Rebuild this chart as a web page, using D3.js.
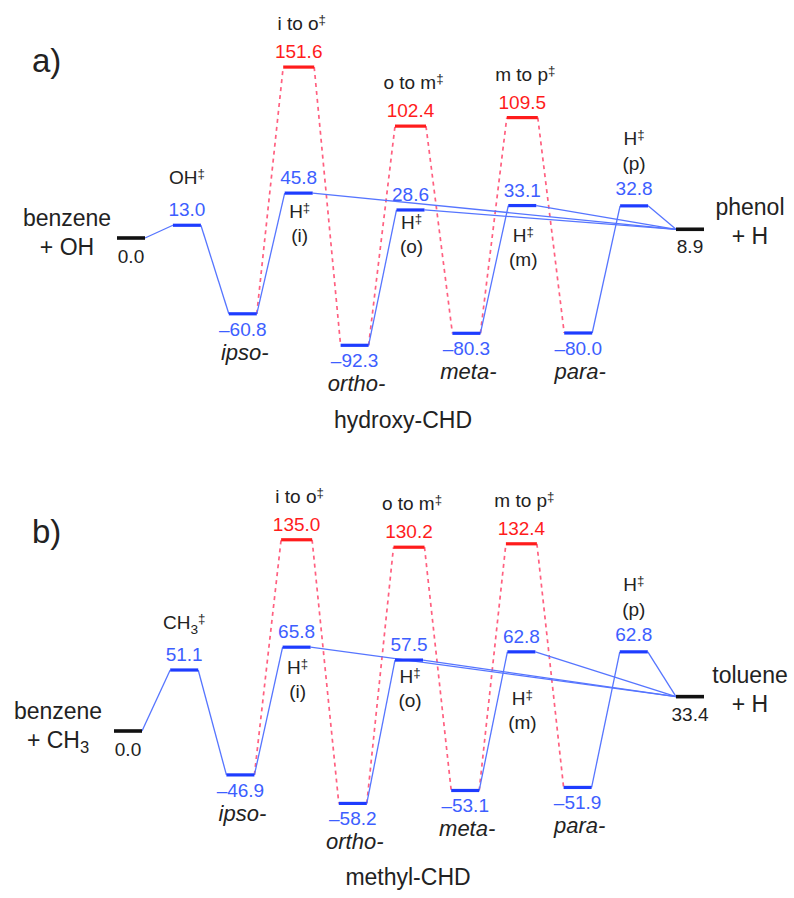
<!DOCTYPE html>
<html>
<head>
<script src="https://d3js.org/d3.v7.min.js"></script>
<style>
  body { margin: 0; background: #fff; }
  svg { display: block; font-family: "Liberation Sans", Arial, Helvetica, sans-serif; }
</style>
</head>
<body>
<svg width="794" height="898"></svg>
<script>
// stationary points, left to right (same column order in both panels)
const columns = ["R", "addTS", "ipso", "Hi", "ortho", "Ho", "meta", "Hm", "para", "Hp", "P"];

// relative energies (kJ/mol) for each column
const energiesA = [0.0, 13.0, -60.8, 45.8, -92.3, 28.6, -80.3, 33.1, -80.0, 32.8, 8.9];
const energiesB = [0.0, 51.1, -46.9, 65.8, -58.2, 57.5, -53.1, 62.8, -51.9, 62.8, 33.4];

// isomerisation transition states (red), drawn over the H-loss columns
const isoTS_A = [151.6, 102.4, 109.5];
const isoTS_B = [135.0, 130.2, 132.4];
const isoNames = ["i to o", "o to m", "m to p"];
const isoCols = ["Hi", "Ho", "Hm"];

const adductCols = ["ipso", "ortho", "meta", "para"];
const adductNames = ["ipso-", "ortho-", "meta-", "para-"];
const hLossCols = ["Hi", "Ho", "Hm", "Hp"];
const hLossTags = ["(i)", "(o)", "(m)", "(p)"];

const INK = "#222", BLUE_TXT = "#3d5eff", BAR_BLUE = "#1e3cff", LINE_BLUE = "#5675ff",
      RED = "#ff1c1c", DASH_RED = "#ff6080";

const panels = [
  {
    tag: "a)", tagY: 72, energies: energiesA, iso: isoTS_A,
    reactant: ["benzene", "+ OH"], reactantX: 67,
    addTS: "OH", product: ["phenol", "+ H"],
    family: "hydroxy-CHD", familyX: 403, familyY: 428,
    hDrop: [25, 19, 36],
    x: d3.scalePoint().domain(columns).range([131, 690]),
    // the original level spacing is not strictly linear, so the scale is piecewise
    y: d3.scaleLinear().domain([-100, -60, 0, 50, 160]).range([353, 313, 238, 189, 57])
  },
  {
    tag: "b)", tagY: 543, energies: energiesB, iso: isoTS_B,
    reactant: ["benzene", "+ CH3"], reactantX: 58,
    addTS: "CH3", product: ["toluene", "+ H"],
    family: "methyl-CHD", familyX: 408, familyY: 885,
    hDrop: [27, 23, 53],
    x: d3.scalePoint().domain(columns).range([128, 690]),
    y: d3.scaleLinear().domain([-60, -47, 0, 35, 140]).range([808, 775, 731, 695, 532])
  }
];

const svg = d3.select("svg");

function fmt(v) { return (v < 0 ? "\u2013" : "") + Math.abs(v).toFixed(1); }

// text helper: digits in chemical names become subscripts, optional double dagger
function addText(g, x, y, str, o = {}) {
  const size = o.size || 19;
  const t = g.append("text").attr("x", x).attr("y", y)
    .attr("text-anchor", o.anchor || "middle")
    .attr("font-size", size)
    .attr("fill", o.color || INK);
  if (o.italic) t.attr("font-style", "italic");
  let shift = 0;
  const seg = (txt, dy, sz) => {
    t.append("tspan").attr("dy", dy - shift).attr("font-size", sz).text(txt);
    shift = dy;
  };
  if (o.chem) {
    str.split(/(\d)/).forEach((p, i) => {
      if (!p) return;
      if (i % 2) seg(p, 5, size * 0.72);
      else seg(p, 0, size);
    });
  } else seg(str, 0, size);
  if (o.dagger) seg("\u2021", -6, size * 0.7);
  return t;
}

function drawPanel(p) {
  const g = svg.append("g");
  const x = p.x, y = p.y;
  const E = c => p.energies[columns.indexOf(c)];
  const half = 14, halfRed = 15.5;
  const L = c => x(c) - half, R = c => x(c) + half;

  // red dashed isomerisation paths
  const iso = isoCols.map((c, i) => ({ col: c, e: p.iso[i], from: adductCols[i], to: adductCols[i + 1], name: isoNames[i] }));
  const dashed = iso.flatMap(d => [
    [R(d.from), y(E(d.from)), x(d.col) - halfRed, y(d.e)],
    [x(d.col) + halfRed, y(d.e), L(d.to), y(E(d.to))]
  ]);
  g.append("g").selectAll("line").data(dashed).join("line")
    .attr("x1", d => d[0]).attr("y1", d => d[1]).attr("x2", d => d[2]).attr("y2", d => d[3])
    .attr("stroke", DASH_RED).attr("stroke-width", 1.7).attr("stroke-dasharray", "4,4");

  // solid blue connectors
  const solid = [["R", "addTS"], ["addTS", "ipso"], ["ipso", "Hi"], ["ortho", "Ho"], ["meta", "Hm"],
                 ["para", "Hp"], ["Hi", "P"], ["Ho", "P"], ["Hm", "P"], ["Hp", "P"]];
  g.append("g").selectAll("line").data(solid).join("line")
    .attr("x1", d => R(d[0])).attr("y1", d => y(E(d[0])))
    .attr("x2", d => L(d[1])).attr("y2", d => y(E(d[1])))
    .attr("stroke", LINE_BLUE).attr("stroke-width", 1.3);

  // levels
  const levels = columns.map((c, i) => ({ col: c, e: p.energies[i] }));
  g.append("g").selectAll("line").data(levels).join("line")
    .attr("x1", d => L(d.col)).attr("x2", d => R(d.col))
    .attr("y1", d => y(d.e)).attr("y2", d => y(d.e))
    .attr("stroke", d => (d.col === "R" || d.col === "P") ? "#111" : BAR_BLUE)
    .attr("stroke-width", d => (d.col === "R" || d.col === "P") ? 3.6 : 3.2);
  g.append("g").selectAll("line").data(iso).join("line")
    .attr("x1", d => x(d.col) - halfRed).attr("x2", d => x(d.col) + halfRed)
    .attr("y1", d => y(d.e)).attr("y2", d => y(d.e))
    .attr("stroke", RED).attr("stroke-width", 3.2);

  // isomerisation TS labels
  iso.forEach(d => {
    addText(g, x(d.col), y(d.e) - 9, fmt(d.e), { color: RED });
    addText(g, x(d.col) + 3, y(d.e) - 37, d.name, { dagger: true });
  });

  // addition TS
  const ya = y(E("addTS"));
  addText(g, x("addTS"), ya - 9, fmt(E("addTS")), { color: BLUE_TXT });
  addText(g, x("addTS"), ya - 41, p.addTS, { chem: true, dagger: true });

  // adducts (minima)
  adductCols.forEach((c, i) => {
    const yy = y(E(c));
    addText(g, x(c), yy + 22, fmt(E(c)), { color: BLUE_TXT });
    addText(g, x(c) + 2, yy + 46, adductNames[i], { italic: true, size: 22 });
  });

  // H-loss transition states
  hLossCols.forEach((c, i) => {
    const yy = y(E(c));
    if (c === "Hp") {
      addText(g, x(c), yy - 11, fmt(E(c)), { color: BLUE_TXT });
      addText(g, x(c), yy - 36, hLossTags[i]);
      addText(g, x(c), yy - 61, "H", { dagger: true });
    } else {
      addText(g, x(c), yy - 9, fmt(E(c)), { color: BLUE_TXT });
      addText(g, x(c) + 1, yy + p.hDrop[i], "H", { dagger: true });
      addText(g, x(c) + 1, yy + p.hDrop[i] + 24, hLossTags[i]);
    }
  });

  // reactants and products
  const yr = y(E("R")), yp = y(E("P"));
  addText(g, x("R"), yr + 25, fmt(E("R")));
  addText(g, p.reactantX, yr - 12, p.reactant[0], { size: 23 });
  addText(g, p.reactantX, yr + 17, p.reactant[1], { size: 23, chem: true });
  addText(g, x("P"), yp + 24, fmt(E("P")));
  addText(g, 750, yp - 14, p.product[0], { size: 23 });
  addText(g, 750, yp + 15, p.product[1], { size: 23 });

  // family name and panel tag
  addText(g, p.familyX, p.familyY, p.family, { size: 23 });
  addText(g, 32, p.tagY, p.tag, { size: 33, anchor: "start" });
}

panels.forEach(drawPanel);
</script>
</body>
</html>
